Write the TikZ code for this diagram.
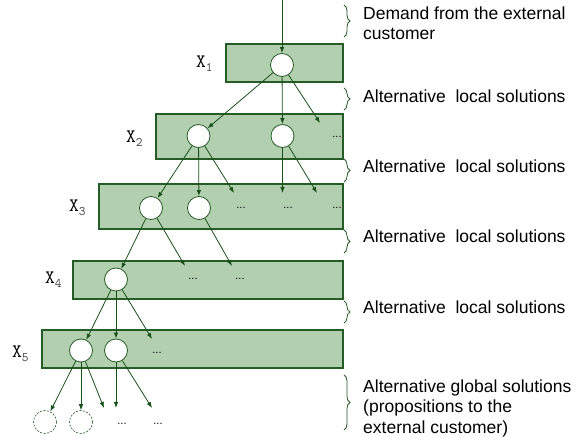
\documentclass[tikz,border=0pt]{standalone}
\usepackage{fontspec}
\setmainfont{Liberation Sans}
\usetikzlibrary{arrows.meta,decorations.pathreplacing}
\definecolor{boxfill}{RGB}{178,208,176}
\definecolor{boxline}{RGB}{38,92,38}
\definecolor{arrowgreen}{RGB}{25,80,25}
\newcommand{\xlab}[1]{{\fontsize{19}{19}\ttfamily X}\raisebox{-4pt}{\fontsize{13}{13}\ttfamily\color{darkgray}#1}}

\begin{document}
\begin{tikzpicture}[x=1pt,y=1pt,
  level/.style={draw=boxline, line width=1.2pt, fill=boxfill},
  sol/.style={circle, draw=boxline, fill=white, line width=0.8pt, minimum size=23pt, inner sep=0pt},
  glob/.style={circle, draw=boxline, dash pattern=on 2pt off 1.5pt, line width=0.6pt, minimum size=23pt, inner sep=0pt},
  more/.style={font=\fontsize{11}{11}\selectfont, inner sep=0pt, anchor=base},
  link/.style={-{Latex[length=6pt,width=4.5pt]}, arrowgreen, line width=0.8pt},
  brc/.style={decorate, decoration={brace, amplitude=6pt}, draw=boxline, line width=0.8pt},
  note/.style={anchor=base west, inner sep=0pt, align=left, font=\fontsize{17.5}{20.5}\selectfont},
  xname/.style={anchor=base west, inner sep=0pt}]
\useasboundingbox (0,0) rectangle (575,-438);

% levels
\draw[level] (226,-44) rectangle (343,-82);
\draw[level] (156,-114) rectangle (343,-159);
\draw[level] (99,-184) rectangle (343,-229);
\draw[level] (73,-261) rectangle (343,-299);
\draw[level] (42,-330) rectangle (343,-368);

\node[xname] (x1) at (196,-68) {\xlab{1}};
\node[xname] (x2) at (126,-143) {\xlab{2}};
\node[xname] (x3) at (69,-212) {\xlab{3}};
\node[xname] (x4) at (45,-283) {\xlab{4}};
\node[xname] (x5) at (12,-357) {\xlab{5}};

% solutions
\coordinate (top) at (282,0);
\node[sol] (c1) at (282,-65){};
\draw[link] (top) -- (c1);
\node[sol] (c21) at (198.5,-136){};
\node[sol] (c22) at (282.5,-136){};
\node[more] (d21) at (337,-138){...};
\coordinate (e21) at (320,-123);
\draw[link] (c1) -- (c21);
\draw[link] (c1) -- (c22);
\draw[link] (c1) -- (e21);
\node[sol] (c31) at (151,-208){};
\node[sol] (c32) at (199,-208){};
\node[more] (d31) at (241,-209){...};
\node[more] (d32) at (288,-209){...};
\node[more] (d33) at (337,-209){...};
\coordinate (e31) at (234,-193);
\coordinate (e32) at (282.5,-193);
\coordinate (e33) at (317,-193);
\draw[link] (c21) -- (c31);
\draw[link] (c21) -- (c32);
\draw[link] (c21) -- (e31);
\draw[link] (c22) -- (e32);
\draw[link] (c22) -- (e33);
\node[sol] (c41) at (116,-279.5){};
\node[more] (d41) at (193,-279){...};
\node[more] (d42) at (240,-279){...};
\coordinate (e41) at (185,-266);
\coordinate (e42) at (232,-266);
\draw[link] (c31) -- (c41);
\draw[link] (c31) -- (e41);
\draw[link] (c32) -- (e42);
\node[sol] (c51) at (81,-350.5){};
\node[sol] (c52) at (116,-350.5){};
\node[more] (d51) at (157,-353){...};
\coordinate (e51) at (152,-339);
\draw[link] (c41) -- (c51);
\draw[link] (c41) -- (c52);
\draw[link] (c41) -- (e51);
\node[glob] (g1) at (45,-422){};
\node[glob] (g2) at (81,-422){};
\node[more] (d61) at (122,-424){...};
\node[more] (d62) at (158,-424){...};
\coordinate (e61) at (104,-408);
\coordinate (e62) at (116,-408);
\coordinate (e63) at (152,-408);
\draw[link] (c51) -- (g1);
\draw[link] (c51) -- (g2);
\draw[link] (c51) -- (e61);
\draw[link] (c52) -- (e62);
\draw[link] (c52) -- (e63);

% braces and notes
\draw[brc] (344,-5) -- (344,-37);
\draw[brc] (344,-88) -- (344,-110);
\draw[brc] (344,-159) -- (344,-182);
\draw[brc] (344,-230) -- (344,-253);
\draw[brc] (344,-301) -- (344,-323);
\draw[brc] (344,-375) -- (344,-430);
\node[note] (t1) at (363,-40) {Demand from the external\\customer};
\node[note] (t2) at (363,-103) {Alternative\ \ local solutions};
\node[note] (t3) at (363,-173) {Alternative\ \ local solutions};
\node[note] (t4) at (363,-243) {Alternative\ \ local solutions};
\node[note] (t5) at (363,-313) {Alternative\ \ local solutions};
\node[note] (t6) at (363,-433) {Alternative global solutions\\(propositions to the\\external customer)};

\end{tikzpicture}
\end{document}
